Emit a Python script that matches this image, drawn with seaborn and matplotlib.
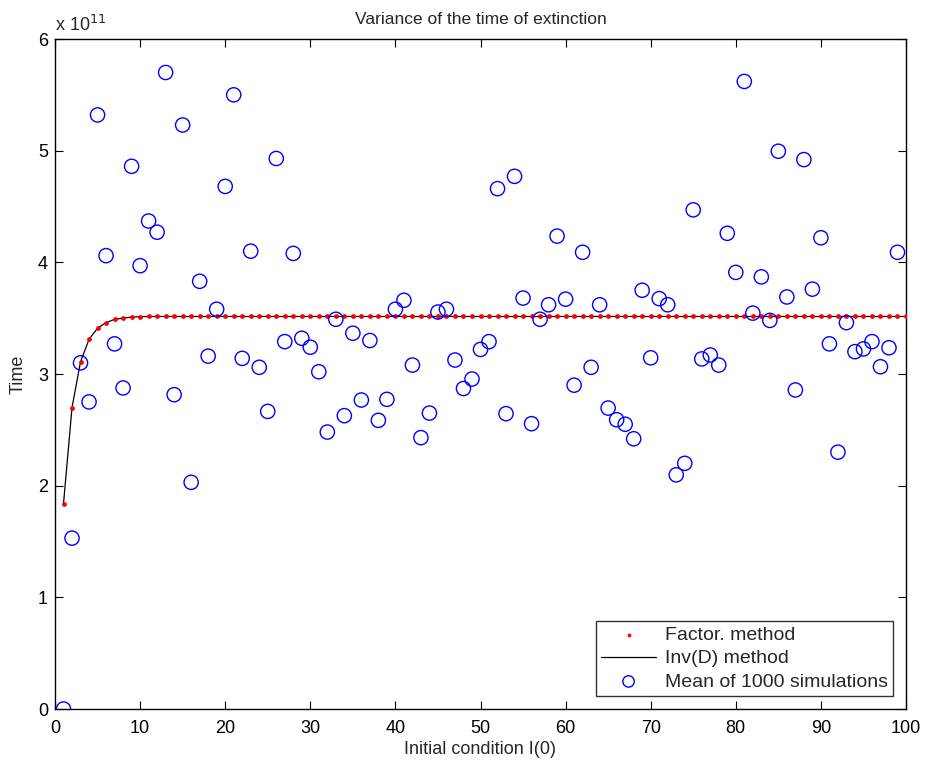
import matplotlib
matplotlib.use("Agg")
import matplotlib.pyplot as plt
import seaborn as sns
import numpy as np
import pandas as pd
from matplotlib.ticker import FuncFormatter

# ---- data (values in units of 1e11) ----
factor_x = list(range(1, 101))
factor_vals = ([1.84, 2.70, 3.11, 3.31, 3.41, 3.46, 3.49, 3.50, 3.51, 3.513]
               + [3.515] * 90)

sim_x = list(range(1, 100))
sim_vals = [0.0, 1.53, 3.10, 2.75, 5.32, 4.06, 3.27, 2.875, 4.86, 3.97,
            4.37, 4.27, 5.70, 2.815, 5.23, 2.03, 3.83, 3.16, 3.58, 4.68,
            5.50, 3.14, 4.10, 3.06, 2.665, 4.93, 3.29, 4.08, 3.32, 3.24,
            3.02, 2.48, 3.49, 2.627, 3.365, 2.767, 3.30, 2.585, 2.773, 3.58,
            3.66, 3.08, 2.43, 2.65, 3.555, 3.58, 3.125, 2.87, 2.955, 3.22,
            3.29, 4.66, 2.645, 4.77, 3.68, 2.555, 3.49, 3.62, 4.235, 3.67,
            2.90, 4.09, 3.06, 3.62, 2.695, 2.59, 2.55, 2.42, 3.75, 3.145,
            3.675, 3.62, 2.097, 2.20, 4.47, 3.135, 3.17, 3.08, 4.26, 3.91,
            5.62, 3.545, 3.87, 3.48, 4.995, 3.69, 2.857, 4.92, 3.76, 4.22,
            3.27, 2.30, 3.46, 3.20, 3.225, 3.29, 3.065, 3.235, 4.09]

scale = 1e11
x_ticks = list(range(0, 101, 10))
y_ticks = [0, 1, 2, 3, 4, 5, 6]

df_factor = pd.DataFrame({"x": factor_x, "y": np.array(factor_vals) * scale})
df_sim = pd.DataFrame({"x": sim_x, "y": np.array(sim_vals) * scale})

sns.set_theme(style="white")
plt.rcParams["font.family"] = ["Liberation Sans", "DejaVu Sans"]

fig = plt.figure(figsize=(9.25, 7.64), dpi=100)
ax = fig.add_axes([55 / 925, 55 / 764, 851 / 925, 670 / 764])

sns.scatterplot(data=df_factor, x="x", y="y", ax=ax, color="red", s=12,
                linewidth=0, marker="o", label="Factor. method", zorder=3)
sns.lineplot(data=df_factor, x="x", y="y", ax=ax, color="black", linewidth=0.9,
             label="Inv(D) method", zorder=2)
sns.scatterplot(data=df_sim, x="x", y="y", ax=ax, s=105, marker="o",
                facecolors="none", edgecolor="#0000ff", linewidth=1.0,
                label="Mean of 1000 simulations", zorder=4)

ax.set_xlim(0, 100)
ax.set_ylim(0, 6 * scale)
ax.set_xticks(x_ticks)
ax.set_yticks([v * scale for v in y_ticks])
ax.yaxis.set_major_formatter(FuncFormatter(lambda v, p: f"{v / scale:g}"))

ax.tick_params(direction="in", length=6, width=0.8, top=True, right=True,
               bottom=True, left=True, labelsize=13, colors="black")
ax.tick_params(axis="x", pad=8)
ax.tick_params(axis="y", pad=5)
for sp in ax.spines.values():
    sp.set_color("black")
    sp.set_linewidth(1.0)

ax.set_title("Variance of the time of extinction", fontsize=12.5, pad=11)
ax.set_xlabel("Initial condition I(0)", fontsize=13, labelpad=3)
ax.set_ylabel("Time", fontsize=13, labelpad=8)
ax.text(0.0, 1.006, r"x 10$^{11}$", transform=ax.transAxes, fontsize=13,
        ha="left", va="bottom")

leg = ax.legend(loc="lower right", fontsize=14, frameon=True, fancybox=False,
                borderpad=0.3, labelspacing=0.28, handlelength=2.8,
                handletextpad=0.45, borderaxespad=0.65, markerscale=0.8)
leg.get_frame().set_edgecolor("black")
leg.get_frame().set_linewidth(1.0)

fig.savefig("out.png", dpi=100)
